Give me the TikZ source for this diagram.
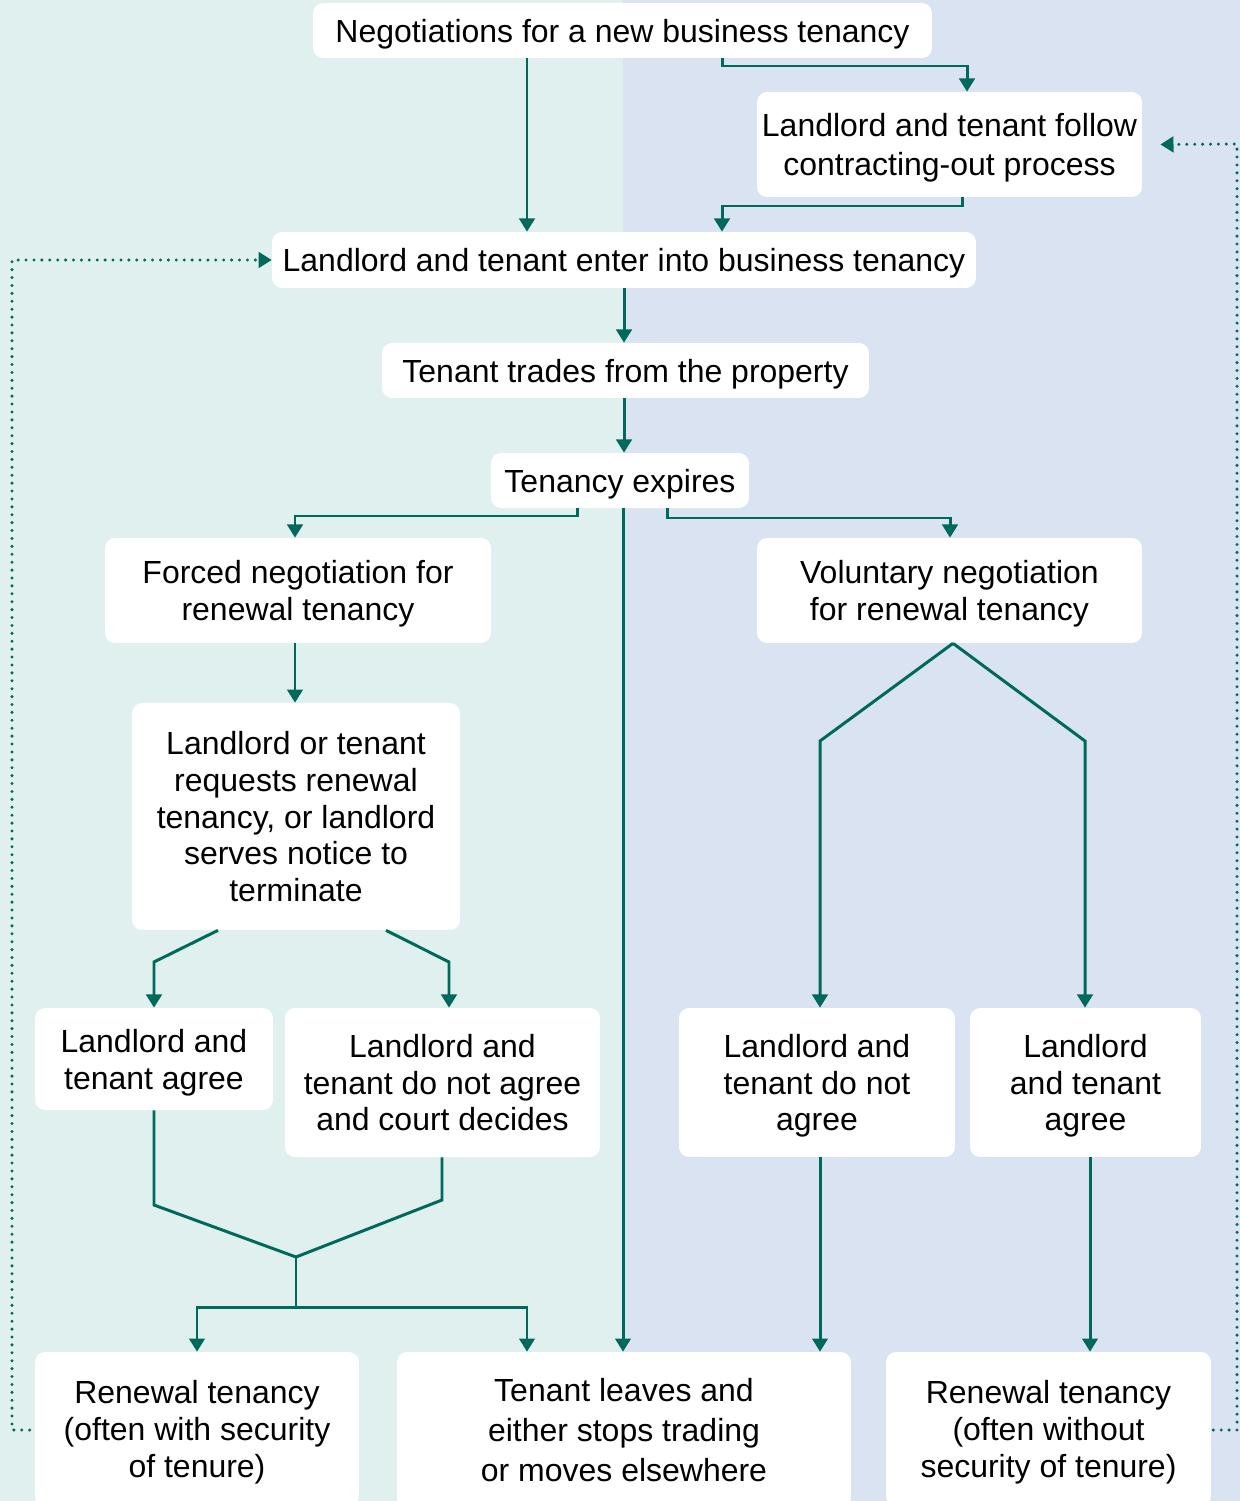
\documentclass[tikz,border=0pt]{standalone}
\usepackage{fontspec}
\setmainfont{Liberation Sans}
\usetikzlibrary{arrows.meta,calc}

\definecolor{leftbg}{HTML}{DFF0EF}
\definecolor{rightbg}{HTML}{DAE3F1}
\definecolor{teal}{HTML}{00695C}

\tikzset{
    stepbox/.style={fill=white, rounded corners=0.2cm, inner sep=0pt, align=center, text depth=0pt},
    line/.style={draw=teal, line width=1.7pt},
    flow/.style={line, -{Triangle[length=7.5pt,width=8.8pt]}},
    dotflow/.style={draw=teal, line width=1.9pt, line cap=round, dash pattern=on 0pt off 4.5pt,
        -{Triangle[length=7.5pt,width=8.8pt]}}
}

\begin{document}
\begin{tikzpicture}[x=0.02cm, y=-0.02cm, font=\fontsize{18.2}{21}\selectfont]
        \useasboundingbox (0,0) rectangle (1240,1501);
        \fill[leftbg] (0,0) rectangle (623,1501);
        \fill[rightbg] (623,0) rectangle (1240,1501);

        % boxes
        \node[stepbox, minimum width=12.38cm, minimum height=1.10cm] (neg) at (622.5,30.5) {Negotiations for a new business tenancy};
        \node[stepbox, minimum width=7.70cm, minimum height=2.10cm, font=\fontsize{18.2}{22.4}\selectfont] (contract) at (949.5,144.5) {Landlord and tenant follow\\contracting-out process};
        \node[stepbox, minimum width=14.08cm, minimum height=1.12cm] (enter) at (624,260) {Landlord and tenant enter into business tenancy};
        \node[stepbox, minimum width=9.74cm, minimum height=1.10cm] (trades) at (625.5,370.5) {Tenant trades from the property};
        \node[stepbox, minimum width=5.16cm, minimum height=1.10cm] (expires) at (620,480.5) {Tenancy expires};
        \node[stepbox, minimum width=7.72cm, minimum height=2.10cm] (forced) at (298,590.5) {Forced negotiation for\\renewal tenancy};
        \node[stepbox, minimum width=7.70cm, minimum height=2.10cm] (voluntary) at (949.5,590.5) {Voluntary negotiation\\for renewal tenancy};
        \node[stepbox, minimum width=6.56cm, minimum height=4.54cm] (requests) at (296,816.5) {Landlord or tenant\\requests renewal\\tenancy, or landlord\\serves notice to\\terminate};
        \node[stepbox, minimum width=4.76cm, minimum height=2.04cm] (agreeL) at (154,1059) {Landlord and\\tenant agree};
        \node[stepbox, minimum width=6.30cm, minimum height=2.98cm] (notagreeL) at (442.5,1082.5) {Landlord and\\tenant do not agree\\and court decides};
        \node[stepbox, minimum width=5.52cm, minimum height=2.98cm] (notagreeR) at (817,1082.5) {Landlord and\\tenant do not\\agree};
        \node[stepbox, minimum width=4.62cm, minimum height=2.98cm] (agreeR) at (1085.5,1082.5) {Landlord\\and tenant\\agree};
        \node[stepbox, minimum width=6.48cm, minimum height=3.08cm] (renewL) at (197,1429) {Renewal tenancy\\(often with security\\of tenure)};
        \node[stepbox, minimum width=9.08cm, minimum height=3.12cm, font=\fontsize{18.2}{22.9}\selectfont] (leaves) at (624,1430) {Tenant leaves and\\either stops trading\\or moves elsewhere};
        \node[stepbox, minimum width=6.50cm, minimum height=3.08cm] (renewR) at (1048.5,1429) {Renewal tenancy\\(often without\\security of tenure)};

        % top part
        \draw[flow] (neg.south -| 527,0) -- (enter.north -| 527,0);
        \draw[flow] (neg.south -| 722,0) |- (967,66) -- (contract.north -| 967,0);
        \draw[flow] (contract.south -| 962,0) |- (722,206) -- (enter.north -| 722,0);
        \draw[flow] (enter.south) -- (trades.north -| enter.south);
        \draw[flow] (trades.south -| 624,0) -- (expires.north -| 624,0);

        % after expiry
        \draw[flow] (expires.south -| 577,0) |- (295,516) -- (forced.north -| 295,0);
        \draw[flow] (expires.south -| 623,0) -- (leaves.north -| 623,0);
        \draw[flow] (expires.south -| 667,0) |- (950,518) -- (voluntary.north -| 950,0);

        % forced branch
        \draw[flow] (forced.south -| 295,0) -- (requests.north -| 295,0);
        \draw[flow] (requests.south -| 218,0) -- (154,962) -- (agreeL.north);
        \draw[flow] (requests.south -| 386,0) -- (449,962) -- (notagreeL.north -| 449,0);
        \draw[line] (agreeL.south) -- (154,1205) -- (296,1257) coordinate (merge);
        \draw[line] (notagreeL.south -| 442,0) -- (442,1200) -- (merge);
        \draw[flow] (merge) -- (296,1307) -| (renewL.north);
        \draw[flow] (296,1307) -| (leaves.north -| 527,0);

        % voluntary branch
        \foreach \t/\x in {notagreeR/820, agreeR/1085}
            \draw[flow] (voluntary.south -| 953,0) -- (\x,741) -- (\t.north -| \x,0);
        \draw[flow] (notagreeR.south -| 820,0) -- (leaves.north -| 820,0);
        \draw[flow] (agreeR.south -| 1090,0) -- (renewR.north -| 1090,0);

        % back loops
        \draw[dotflow] ($(renewL.west)+(-5,1)$) -| (12,260) -- (enter.west);
        \draw[dotflow] ($(renewR.east)+(2,1)$) -| (1237,144) -- ($(contract.east)+(18,0)$);
    \end{tikzpicture}
\end{document}
